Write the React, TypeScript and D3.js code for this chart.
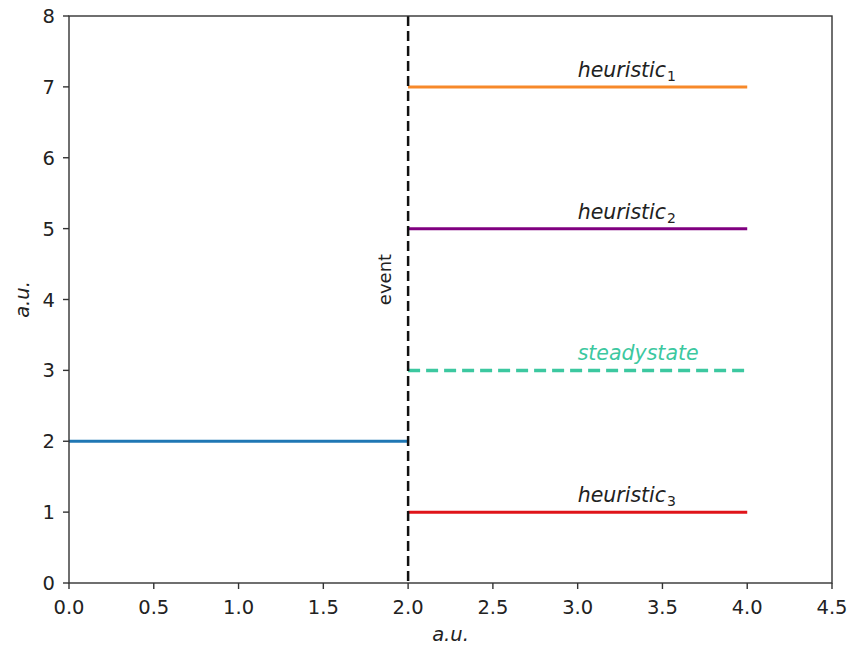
import React from "react";
import * as d3 from "d3";

const xTicks = [0, 0.5, 1, 1.5, 2, 2.5, 3, 3.5, 4, 4.5];
const yTicks = [0, 1, 2, 3, 4, 5, 6, 7, 8];

const segNames = ["before", "heuristic1", "heuristic2", "steadystate", "heuristic3"];
const segX0 = [0, 2, 2, 2, 2];
const segX1 = [2, 4, 4, 4, 4];
const segY = [2, 7, 5, 3, 1];
const segColors = ["#1f77b4", "#f7892a", "#800080", "#3cc8a0", "#e0141a"];
const segDashed = [false, false, false, true, false];

const labelText = ["heuristic", "heuristic", "steadystate", "heuristic"];
const labelSub = ["1", "2", "", "3"];
const labelY = [7, 5, 3, 1];
const labelColors = ["#222", "#222", "#3cc8a0", "#222"];

const eventX = 2;

const W = 850;
const H = 646;
const M = { left: 69, right: 832, top: 16, bottom: 583 };
const FONT = "'DejaVu Sans', sans-serif";

export default function App() {
  const x = d3.scaleLinear().domain([0, 4.5]).range([M.left, M.right]);
  const y = d3.scaleLinear().domain([0, 8]).range([M.bottom, M.top]);
  const axisColor = "#333";

  return (
    <svg
      width={W}
      height={H}
      style={{ position: "absolute", left: 0, top: 0, background: "#fff" }}
      fontFamily={FONT}
    >
      {/* data segments */}
      {segNames.map((n, i) => (
        <line
          key={n}
          x1={x(segX0[i])}
          x2={x(segX1[i])}
          y1={y(segY[i])}
          y2={y(segY[i])}
          stroke={segColors[i]}
          strokeWidth={segDashed[i] ? 3.5 : 3}
          strokeDasharray={segDashed[i] ? "12 6" : undefined}
        />
      ))}

      {/* event marker */}
      <line
        x1={x(eventX)}
        x2={x(eventX)}
        y1={y(8)}
        y2={y(0)}
        stroke="#111"
        strokeWidth={2.5}
        strokeDasharray="10 5"
      />
      <text
        transform={`translate(${x(eventX) - 17},${y(3.92)}) rotate(-90)`}
        fontSize={18}
        fill="#222"
      >
        event
      </text>

      {/* series labels */}
      {labelText.map((t, i) => (
        <text
          key={i}
          x={x(3)}
          y={y(labelY[i]) - 10}
          fontSize={20.5}
          fontStyle="italic"
          fill={labelColors[i]}
        >
          {t}
          {labelSub[i] && (
            <tspan fontSize={14} fontStyle="normal" dx={1} dy={4}>
              {labelSub[i]}
            </tspan>
          )}
        </text>
      ))}

      {/* frame */}
      <rect
        x={M.left}
        y={M.top}
        width={M.right - M.left}
        height={M.bottom - M.top}
        fill="none"
        stroke={axisColor}
        strokeWidth={1.4}
      />

      {/* x ticks */}
      {xTicks.map((t) => (
        <g key={"x" + t}>
          <line x1={x(t)} x2={x(t)} y1={M.bottom} y2={M.bottom + 6} stroke={axisColor} strokeWidth={1.4} />
          <text x={x(t)} y={M.bottom + 31} textAnchor="middle" fontSize={19.5} fill="#222">
            {t.toFixed(1)}
          </text>
        </g>
      ))}

      {/* y ticks */}
      {yTicks.map((t) => (
        <g key={"y" + t}>
          <line x1={M.left - 6} x2={M.left} y1={y(t)} y2={y(t)} stroke={axisColor} strokeWidth={1.4} />
          <text x={M.left - 14} y={y(t) + 7} textAnchor="end" fontSize={19.5} fill="#222">
            {t}
          </text>
        </g>
      ))}

      {/* axis titles */}
      <text x={(M.left + M.right) / 2} y={641} textAnchor="middle" fontSize={19.5} fontStyle="italic" fill="#222">
        a.u.
      </text>
      <text
        transform={`translate(29,${(M.top + M.bottom) / 2}) rotate(-90)`}
        textAnchor="middle"
        fontSize={19.5}
        fontStyle="italic"
        fill="#222"
      >
        a.u.
      </text>
    </svg>
  );
}
